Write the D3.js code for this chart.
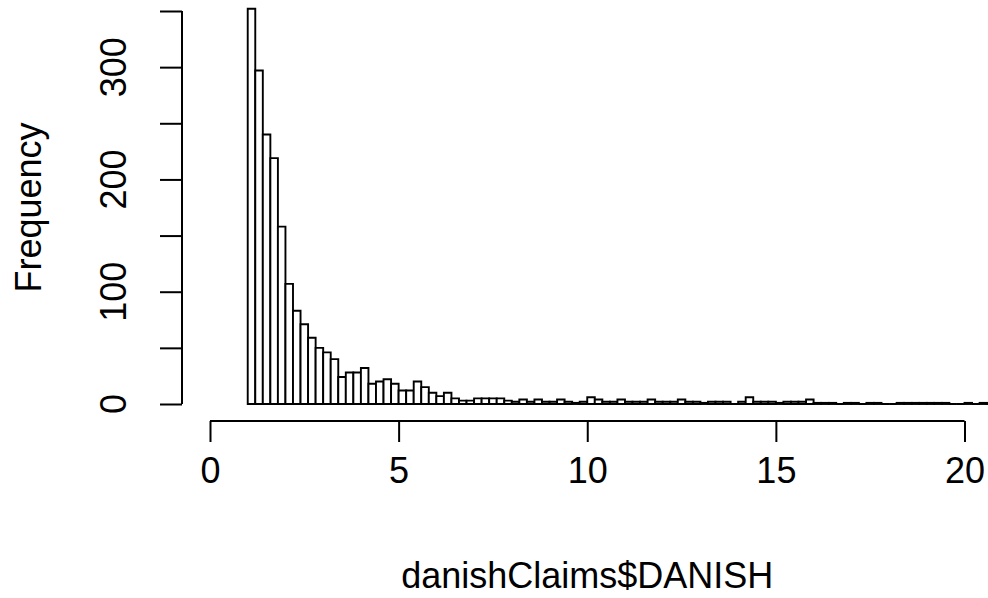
<!DOCTYPE html>
<meta charset="utf-8">

<head>
	<style type="text/css">
		body { margin: 0; background: #fff; }
		text { font-family: Arial, "Liberation Sans", sans-serif; fill: #000; }
		.bar { fill: #fff; stroke: #000; stroke-width: 1.9; }
		.axis path, .axis line { stroke: #000; stroke-width: 2; fill: none; }
	</style>
	<title>Histogram of danishClaims$DANISH</title>
</head>

<script src="https://cdn.jsdelivr.net/npm/d3@7"></script>

<svg width="988" height="598" id="svg1"></svg>

<script>
	// lower edge of each bin (width 0.2)
	const binStarts = [1.0, 1.2, 1.4, 1.6, 1.8, 2.0, 2.2, 2.4, 2.6, 2.8,
		3.0, 3.2, 3.4, 3.6, 3.8, 4.0, 4.2, 4.4, 4.6, 4.8,
		5.0, 5.2, 5.4, 5.6, 5.8, 6.0, 6.2, 6.4, 6.6, 6.8,
		7.0, 7.2, 7.4, 7.6, 7.8, 8.0, 8.2, 8.4, 8.6, 8.8,
		9.0, 9.2, 9.4, 9.6, 9.8, 10.0, 10.2, 10.4, 10.6, 10.8,
		11.0, 11.2, 11.4, 11.6, 11.8, 12.0, 12.2, 12.4, 12.6, 12.8,
		13.0, 13.2, 13.4, 13.6, 13.8, 14.0, 14.2, 14.4, 14.6, 14.8,
		15.0, 15.2, 15.4, 15.6, 15.8, 16.0, 16.2, 16.4, 16.6, 16.8,
		17.0, 17.2, 17.4, 17.6, 17.8, 18.0, 18.2, 18.4, 18.6, 18.8,
		19.0, 19.2, 19.4, 19.6, 19.8, 20.0, 20.2, 20.4, 20.6];
	const binWidth = 0.2;

	const counts = [352, 297, 240, 219, 158, 107, 83, 71, 59, 50,
		46, 40, 24, 28, 28, 32, 18, 20, 22, 18,
		12, 12, 20, 15, 10, 7, 10, 5, 3, 3,
		5, 5, 5, 5, 3, 2, 4, 2, 4, 2,
		2, 4, 2, 1, 2, 6, 4, 2, 2, 4,
		2, 2, 2, 4, 2, 2, 2, 4, 2, 2,
		1, 2, 2, 2, 0, 2, 6, 2, 2, 2,
		1, 2, 2, 2, 4, 1, 1, 1, 0, 1,
		1, 0, 1, 1, 0, 0, 1, 1, 1, 1,
		1, 1, 1, 0, 0, 1, 0, 1, 1];

	const xTicks = [0, 5, 10, 15, 20];
	const yTicks = [0, 50, 100, 150, 200, 250, 300, 350];
	const yLabels = [0, 100, 200, 300];

	const svg1 = d3.select('#svg1');

	const x = d3.scaleLinear().domain([0, 20]).range([210, 964.5]);
	const y = d3.scaleLinear().domain([0, 350]).range([404, 11]);

	const bins = binStarts.map((b, i) => ({x0: b, x1: b + binWidth, n: counts[i]}));

	// bars as closed paths so empty bins still leave their bottom line
	svg1.append('g')
		.selectAll('path')
		.data(bins)
		.enter()
			.append('path')
				.attr('class', 'bar')
				.attr('d', d => `M${x(d.x0)},${y(0)}V${y(d.n)}H${x(d.x1)}V${y(0)}Z`);

	// x axis, R style: detached below the plot
	const xAxis = svg1.append('g')
		.attr('class', 'axis')
		.attr('transform', 'translate(0,421)')
		.call(d3.axisBottom(x).tickValues(xTicks).tickSize(21).tickSizeOuter(0).tickFormat(d3.format('d')));
	xAxis.select('.domain').attr('d', `M${x(0)},0H${x(20)}`);
	xAxis.selectAll('text')
		.attr('y', 62)
		.attr('dy', 0)
		.style('font-size', '36px')
		.style('font-family', 'Arial, "Liberation Sans", sans-serif');

	// y axis
	const yAxis = svg1.append('g')
		.attr('class', 'axis')
		.attr('transform', 'translate(182,0)')
		.call(d3.axisLeft(y).tickValues(yTicks).tickSize(22).tickSizeOuter(0).tickFormat(''));
	yAxis.select('.domain').attr('d', `M0,${y(0)}V${y(350)}`);

	svg1.append('g')
		.selectAll('text')
		.data(yLabels)
		.enter()
			.append('text')
				.attr('transform', d => `translate(126,${y(d)}) rotate(-90)`)
				.attr('text-anchor', 'middle')
				.style('font-size', '36px')
				.text(d => d);

	svg1.append('text')
		.attr('x', x(10))
		.attr('y', 588)
		.attr('text-anchor', 'middle')
		.style('font-size', '36px')
		.text('danishClaims$DANISH');

	svg1.append('text')
		.attr('transform', `translate(41,${y(175)}) rotate(-90)`)
		.attr('text-anchor', 'middle')
		.style('font-size', '36px')
		.text('Frequency');
</script>
